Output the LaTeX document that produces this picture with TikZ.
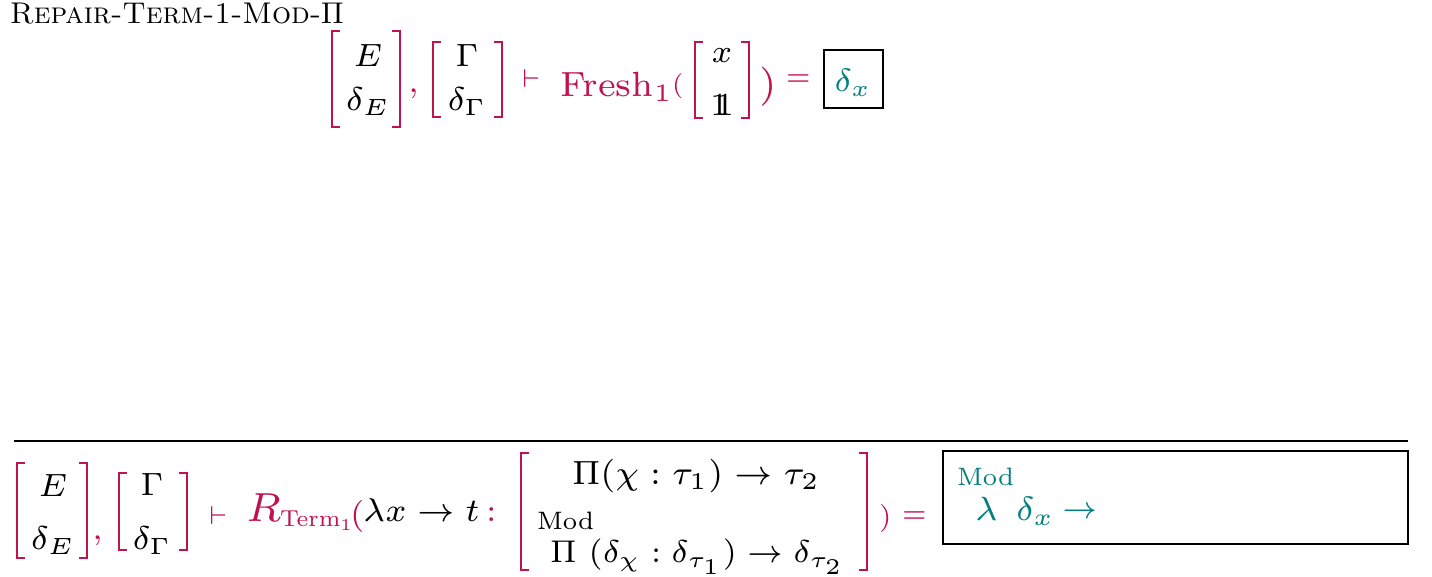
\RequirePackage{fix-cm}
\documentclass[tikz,border=0pt]{standalone}
\usepackage{amsmath}
\usepackage{graphicx}
\definecolor{crim}{RGB}{192,18,78}
\definecolor{tl}{RGB}{0,128,128}
\newcommand\myLB[3]{\draw[brk] (#1+8,#2) -- (#1,#2) -- (#1,#3) -- (#1+8,#3);}
\newcommand\myRB[3]{\draw[brk] (#1-8,#2) -- (#1,#2) -- (#1,#3) -- (#1-8,#3);}
\newcommand\myone{\mathrm{1\kern-0.40em1}}
\newcommand\SB[2]{\scalebox{#1}{#2}}
\tikzset{
 tok/.style={anchor=base west, inner sep=0pt, outer sep=0pt},
 ctok/.style={anchor=base, inner sep=0pt, outer sep=0pt},
 brk/.style={draw=crim, line width=1.2pt},
 resbox/.style={draw=black, line width=0.8pt},
}
\begin{document}
\begin{tikzpicture}[x=0.5pt,y=-0.5pt,font=\fontsize{7}{8.4}\selectfont]
\useasboundingbox (0,0) rectangle (1432,577);
% title
\node[tok,font=\fontsize{10}{12}\selectfont] (title) at (10,24) {\SB{1.5}{\textsc{Repair-Term-1-Mod-}$\Pi$}};
% ---------- premise ----------
\myLB{332}{31}{127} \myRB{400}{31}{127}
\node[ctok] (pE) at (368,67) {\SB{2.3}{$E$}};
\node[ctok] (pdE) at (368,111) {\SB{2.35}{$\delta_E$}};
\node[tok,text=crim] (pc) at (408,93) {\SB{2.3}{$,$}};
\myLB{433}{42}{117} \myRB{502}{42}{117}
\node[ctok] (pG) at (467,67) {\SB{2.3}{$\Gamma$}};
\node[ctok] (pdG) at (467,111) {\SB{2.35}{$\delta_\Gamma$}};
\node[tok,text=crim] (pvd) at (522,88) {\SB{1.85}{$\vdash$}};
\node[tok,text=crim] (pfr) at (560,97) {\SB{2.5}{Fresh$_1$}};
\node[tok,text=crim] (plp) at (672,93) {\SB{1.8}{$($}};
\myLB{695}{42}{118} \myRB{749}{42}{118}
\node[ctok] (px) at (722,63) {\SB{2.3}{$x$}};
\node[ctok] (p1) at (722,116) {\SB{2.3}{$\myone$}};
\node[tok,text=crim] (prp) at (759,97) {\SB{2.8}{$)$}};
\node[tok,text=crim] (peq) at (786,86) {\SB{2.0}{$=$}};
\draw[resbox] (824,50) rectangle (883,108);
\node[ctok,text=tl] (pdx) at (853,92) {\SB{2.3}{$\delta_x$}};
% ---------- rule ----------
\draw[line width=1pt] (14,441) -- (1408,441);
% ---------- conclusion ----------
\myLB{17}{463}{558} \myRB{87}{463}{558}
\node[ctok] (cE) at (53,497) {\SB{2.3}{$E$}};
\node[ctok] (cdE) at (53,550) {\SB{2.35}{$\delta_E$}};
\node[tok,text=crim] (cc) at (92,540) {\SB{2.3}{$,$}};
\myLB{119}{473}{550} \myRB{187}{473}{550}
\node[ctok] (cG) at (152,496) {\SB{2.3}{$\Gamma$}};
\node[ctok] (cdG) at (152,550) {\SB{2.35}{$\delta_\Gamma$}};
\node[tok,text=crim] (cvd) at (209,524) {\SB{1.85}{$\vdash$}};
\node[tok,text=crim] (cR) at (246,522) {\SB{2.9}{$R$}};
\node[tok,text=crim] (cT) at (280,527) {\SB{1.65}{Term$_1$}};
\node[tok,text=crim] (clp) at (350,524) {\SB{2.3}{$($}};
\node[tok] (clam) at (363,522) {\SB{2.35}{$\lambda x \to t$}};
\node[tok,text=crim] (ccol) at (486,522) {\SB{2.3}{$:$}};
\myLB{521}{453}{570} \myRB{867}{453}{570}
\node[tok] (cl1) at (572,485) {\SB{2.4}{$\Pi(\chi : \tau_1) \to \tau_2$}};
\node[tok] (cmod) at (537,530) {\SB{1.8}{Mod}};
\node[tok] (cl2) at (550,563) {\SB{2.25}{$\Pi\ (\delta_\chi : \delta_{\tau_1}) \to \delta_{\tau_2}$}};
\node[tok,text=crim] (crp) at (879,526) {\SB{2.0}{$)$}};
\node[tok,text=crim] (ceq) at (902,523) {\SB{2.0}{$=$}};
\draw[resbox] (943,451) rectangle (1408,544);
\node[tok,text=tl] (rmod) at (957,486) {\SB{1.8}{Mod}};
\node[tok,text=tl] (rlam) at (975,521) {\SB{2.4}{$\lambda$}};
\node[tok,text=tl] (rdx) at (1016,521) {\SB{2.4}{$\delta_x$}};
\node[tok,text=tl] (rar) at (1062,519) {\SB{2.2}{$\to$}};
\end{tikzpicture}
\end{document}
